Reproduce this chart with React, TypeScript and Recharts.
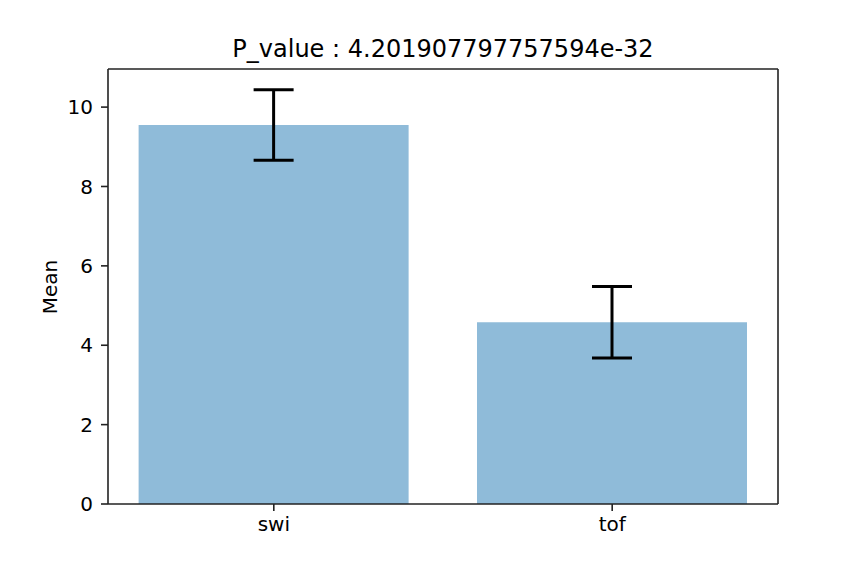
import React from 'react';
import { BarChart, Bar, XAxis, YAxis, ErrorBar, ReferenceLine } from 'recharts';

const categories = ['swi', 'tof'];
const means = [9.55, 4.58];
const errors = [0.89, 0.9];
const yTicks = [0, 2, 4, 6, 8, 10];
const title = 'P_value : 4.201907797757594e-32';

const data = categories.map((name, i) => ({ x: i, name, mean: means[i], err: errors[i] }));

const FONT = '"DejaVu Sans", sans-serif';
const INK = '#222';
const X_DOMAIN: [number, number] = [-0.49, 1.49];
const Y_DOMAIN: [number, number] = [0, 10.96];

const App: React.FC = () => {
  return (
    <div style={{ position: 'absolute', left: 0, top: 0, width: 864, height: 576, background: '#fff' }}>
      <BarChart
        width={864}
        height={576}
        data={data}
        margin={{ top: 69, right: 86, bottom: 32, left: 48 }}
        style={{ fontFamily: FONT }}
      >
        <XAxis
          type="number"
          dataKey="x"
          domain={X_DOMAIN}
          ticks={[0, 1]}
          tickFormatter={(v: number) => categories[v]}
          allowDataOverflow
          height={40}
          tickSize={7}
          tickMargin={6}
          tick={{ fill: '#000', fontSize: 20, fontFamily: FONT }}
          axisLine={{ stroke: INK, strokeWidth: 1.6 }}
          tickLine={{ stroke: INK, strokeWidth: 1.6 }}
        />
        <YAxis
          type="number"
          domain={Y_DOMAIN}
          ticks={yTicks}
          allowDataOverflow
          width={60}
          tickSize={7}
          tickMargin={8}
          tick={{ fill: '#000', fontSize: 20, fontFamily: FONT }}
          axisLine={{ stroke: INK, strokeWidth: 1.6 }}
          tickLine={{ stroke: INK, strokeWidth: 1.6 }}
        />
        <ReferenceLine y={Y_DOMAIN[1]} stroke={INK} strokeWidth={1.6} ifOverflow="visible" />
        <ReferenceLine x={X_DOMAIN[1]} stroke={INK} strokeWidth={1.6} ifOverflow="visible" />
        <Bar dataKey="mean" fill="#1f77b4" fillOpacity={0.5} barSize={270} isAnimationActive={false}>
          <ErrorBar dataKey="err" direction="y" width={20} stroke="#000" strokeWidth={3} />
        </Bar>
      </BarChart>
      <svg
        width={864}
        height={576}
        style={{ position: 'absolute', left: 0, top: 0, pointerEvents: 'none' }}
      >
        <text x={443} y={57} textAnchor="middle" fontSize={24} fontFamily={FONT} fill="#000">
          {title}
        </text>
        <text
          transform="rotate(-90)"
          x={-287}
          y={57}
          textAnchor="middle"
          fontSize={20}
          fontFamily={FONT}
          fill="#000"
        >
          Mean
        </text>
      </svg>
    </div>
  );
};

export default App;
